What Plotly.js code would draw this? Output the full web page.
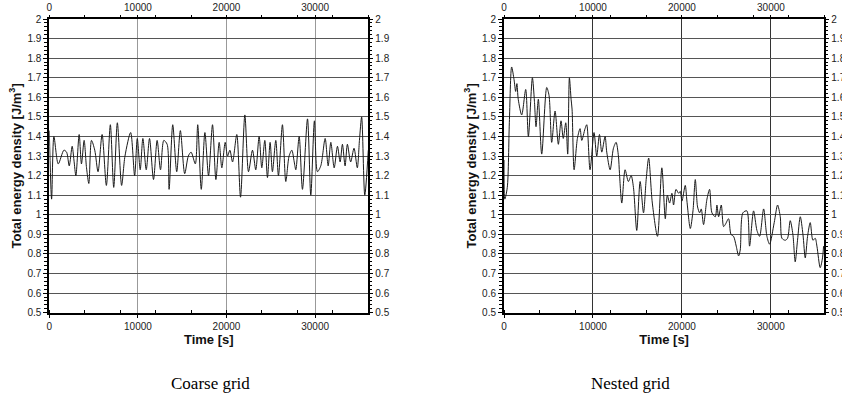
<!DOCTYPE html>
<html>
<head>
<meta charset="utf-8">
<script src="https://cdn.plot.ly/plotly-3.0.1.min.js"></script>
<style>html,body{margin:0;padding:0;background:#fff;}#chart{width:842px;height:420px;}</style>
</head>
<body>
<div id="chart"></div>
<script>
// Coarse grid: time [s] and total energy density [J/m^3]
const coarseTime = [0,260,520,1010,1650,1950,2250,2580,2780,3000,3370,3630,3930,4200,4460,4760,5130,5500,5960,6440,6890,7270,7680,8160,8540,9180,9630,9930,10260,10560,10940,11310,11760,12170,12550,12920,13300,13520,13930,14380,14790,15280,15690,16000,16480,16750,17150,17560,17970,18420,18800,19170,19470,19850,20110,20380,20680,21160,21580,22070,22480,22930,23300,23680,23980,24320,24620,24920,25180,25560,25860,26310,26690,27060,27370,27640,27820,28200,28570,29140,29510,29920,30260,30640,31130,31470,31770,32150,32520,32820,33080,33380,33640,34010,34390,34760,35000,35250,35600,36000];
const coarseEnergy = [1.43,1.08,1.40,1.26,1.33,1.32,1.25,1.35,1.28,1.20,1.41,1.26,1.38,1.24,1.16,1.38,1.33,1.22,1.41,1.15,1.46,1.14,1.47,1.15,1.30,1.42,1.20,1.39,1.23,1.39,1.23,1.39,1.18,1.38,1.23,1.38,1.36,1.13,1.46,1.22,1.43,1.21,1.30,1.32,1.26,1.46,1.13,1.42,1.20,1.46,1.18,1.37,1.24,1.37,1.30,1.33,1.27,1.41,1.09,1.51,1.22,1.33,1.23,1.40,1.24,1.38,1.19,1.37,1.22,1.38,1.20,1.46,1.17,1.30,1.33,1.27,1.23,1.40,1.13,1.49,1.10,1.48,1.22,1.25,1.39,1.25,1.37,1.24,1.35,1.27,1.36,1.25,1.36,1.27,1.34,1.24,1.38,1.50,1.10,1.33];

// Nested grid
const nestedTime = [0,90,370,600,860,1130,1310,1450,1600,1990,2440,2740,3190,3420,3600,3860,4240,4800,5060,5360,5740,6110,6410,6660,6940,7160,7350,7540,7650,7880,8250,8550,8740,9110,9300,9670,10120,10420,10730,10990,11360,11550,11930,12300,12600,12860,12980,13240,13610,13980,14290,14550,14920,15300,15680,15980,16260,16670,17250,17740,18130,18360,18610,18870,19060,19330,19630,19810,20000,20370,20560,20940,21240,21500,21760,21990,22170,22430,22810,23110,23370,23750,23930,24120,24420,24680,24870,25240,25510,25800,26100,26370,26550,26850,27300,27600,28050,28430,28730,29180,29550,29850,30370,30750,31050,31240,31610,31870,32170,32470,32730,32990,33300,33600,33860,34120,34420,34720,34980,35170,35540,35800,35920];
const nestedEnergy = [1.28,1.08,1.14,1.47,1.755,1.69,1.63,1.67,1.59,1.51,1.64,1.40,1.70,1.58,1.45,1.59,1.31,1.65,1.61,1.37,1.53,1.36,1.48,1.39,1.47,1.31,1.70,1.59,1.54,1.23,1.39,1.44,1.38,1.44,1.46,1.23,1.42,1.30,1.41,1.32,1.40,1.32,1.23,1.34,1.37,1.30,1.21,1.06,1.23,1.17,1.20,1.14,0.92,1.17,1.01,1.18,1.29,1.06,0.89,1.24,0.98,1.10,1.06,1.11,1.05,1.13,1.11,1.12,1.07,1.15,1.07,0.93,1.02,1.18,1.04,1.01,1.03,0.95,1.08,1.13,1.01,0.99,1.05,0.99,1.05,0.94,0.95,0.98,0.90,0.89,0.84,0.79,0.82,1.01,1.02,0.84,1.02,0.92,0.89,1.03,0.89,0.85,0.96,1.05,0.99,0.88,0.87,0.88,0.97,0.90,0.76,0.87,0.99,0.90,0.78,0.89,0.96,0.87,0.88,0.84,0.73,0.78,0.84];

const xTickVals = [0,10000,20000,30000];
const xTickText = ['0','10000','20000','30000'];
const yTickVals = [0.5,0.6,0.7,0.8,0.9,1,1.1,1.2,1.3,1.4,1.5,1.6,1.7,1.8,1.9,2];
const yTickText = ['0.5','0.6','0.7','0.8','0.9','1','1.1','1.2','1.3','1.4','1.5','1.6','1.7','1.8','1.9','2'];
const xTitle = 'Time [s]';
const yTitle = 'Total energy density [J/m<sup>3</sup>]';
const captions = ['Coarse grid','Nested grid'];

const FONT = 'Liberation Sans, Arial, sans-serif';
const tickFont = {family: FONT, size: 10, color: '#222'};
const titleFont = {family: FONT, size: 13, color: '#111', weight: 'bold'};

const yDom = [107.3/420, 401/420];
const xDoms = [[49.3/842, 368.3/842],[504/842, 824.3/842]];

function xAxis(dom, anchor, grid) {
  return {domain: dom, anchor: anchor, range: [0,36000], tickmode: 'array', tickvals: xTickVals, ticktext: xTickText,
    ticks: 'outside', ticklen: 3, tickcolor: '#000', tickfont: tickFont,
    showline: true, linecolor: '#000', linewidth: 2, mirror: true,
    showgrid: true, gridcolor: grid, gridwidth: 1, zeroline: false,
    minor: {dtick: 4000, tick0: 0, ticks: 'inside', ticklen: 3, tickcolor: '#000', showgrid: false},
    title: {text: xTitle, font: titleFont, standoff: 1}, fixedrange: true};
}
function yAxis(anchor) {
  return {domain: yDom, anchor: anchor, range: [0.5,2], tickmode: 'array', tickvals: yTickVals, ticktext: yTickText,
    ticks: 'outside', ticklen: 4, tickcolor: '#000', tickfont: tickFont,
    showline: true, linecolor: '#000', linewidth: 2, mirror: true,
    showgrid: true, gridcolor: '#555', gridwidth: 1, zeroline: false,
    minor: {dtick: 0.02, tick0: 0.5, ticks: 'outside', ticklen: 3, tickcolor: '#000', showgrid: false},
    title: {text: yTitle, font: titleFont, standoff: 3}, fixedrange: true};
}
function xTop(over, anchor, dom) {
  return {domain: dom, overlaying: over, anchor: anchor, side: 'top', range: [0,36000],
    tickmode: 'array', tickvals: xTickVals, ticktext: xTickText, ticks: 'outside', ticklen: 3, tickcolor: '#000', tickfont: tickFont,
    showgrid: false, zeroline: false, showline: false, fixedrange: true,
    minor: {dtick: 4000, tick0: 0, ticks: 'outside', ticklen: 3, tickcolor: '#000', showgrid: false}};
}
function yRight(over, anchor) {
  return {domain: yDom, overlaying: over, anchor: anchor, side: 'right', range: [0.5,2],
    tickmode: 'array', tickvals: yTickVals, ticktext: yTickText,
    ticks: 'outside', ticklen: 4, tickcolor: '#000', tickfont: tickFont,
    showgrid: false, zeroline: false, showline: false, fixedrange: true,
    minor: {dtick: 0.02, tick0: 0.5, ticks: 'outside', ticklen: 3, tickcolor: '#000', showgrid: false}};
}

const lineStyle = {color: '#1a1a1a', width: 1, shape: 'spline', smoothing: 0.8};
const traces = [
  {type: 'scatter', mode: 'lines', x: coarseTime, y: coarseEnergy, xaxis: 'x', yaxis: 'y', line: lineStyle, hoverinfo: 'x+y'},
  {type: 'scatter', mode: 'lines', x: nestedTime, y: nestedEnergy, xaxis: 'x2', yaxis: 'y2', line: lineStyle, hoverinfo: 'x+y'},
  // empty traces that only bring in the mirrored top/right label axes
  {type: 'scatter', mode: 'lines', x: [], y: [], xaxis: 'x3', yaxis: 'y3', hoverinfo: 'skip'},
  {type: 'scatter', mode: 'lines', x: [], y: [], xaxis: 'x4', yaxis: 'y4', hoverinfo: 'skip'}
];

const layout = {
  width: 842, height: 420, margin: {l: 0, r: 0, t: 0, b: 0},
  paper_bgcolor: '#fff', plot_bgcolor: '#fff', showlegend: false,
  xaxis: xAxis(xDoms[0], 'y', '#999'),
  yaxis: yAxis('x'),
  xaxis2: xAxis(xDoms[1], 'y2', '#333'),
  yaxis2: yAxis('x2'),
  xaxis3: xTop('x', 'y3', xDoms[0]),
  yaxis3: yRight('y', 'x3'),
  xaxis4: xTop('x2', 'y4', xDoms[1]),
  yaxis4: yRight('y2', 'x4'),
  annotations: [
    {text: captions[0], xref: 'paper', yref: 'paper', x: 210/842, y: 1 - 383/420, xanchor: 'center', yanchor: 'middle', showarrow: false,
     font: {family: 'Liberation Serif, DejaVu Serif, serif', size: 17, color: '#000'}},
    {text: captions[1], xref: 'paper', yref: 'paper', x: 630/842, y: 1 - 383/420, xanchor: 'center', yanchor: 'middle', showarrow: false,
     font: {family: 'Liberation Serif, DejaVu Serif, serif', size: 17, color: '#000'}}
  ]
};

Plotly.newPlot('chart', traces, layout, {displayModeBar: false, staticPlot: true});
</script>
</body>
</html>
